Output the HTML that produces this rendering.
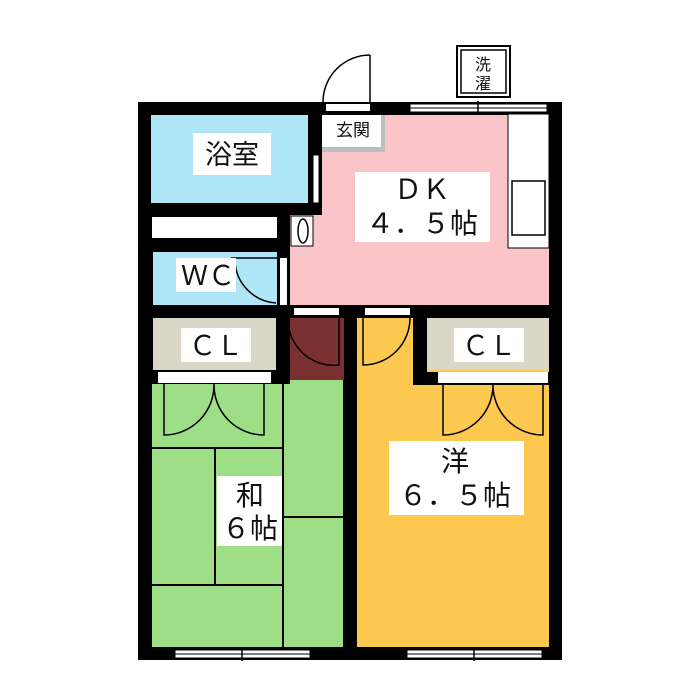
<!DOCTYPE html>
<html><head><meta charset="utf-8"><style>
html,body{margin:0;padding:0;background:#fff;width:700px;height:700px;overflow:hidden}
svg text{font-family:"Liberation Sans","Noto Sans CJK JP",sans-serif;fill:#111}
</style></head><body>
<svg width="700" height="700" viewBox="0 0 700 700" xmlns="http://www.w3.org/2000/svg">
<rect x="138" y="102" width="424" height="558" fill="#000"/>
<!-- DK -->
<rect x="290" y="115" width="259" height="190" fill="#f9c5c8"/>
<rect x="277" y="102" width="45" height="113" fill="#000"/>
<rect x="277" y="215" width="13" height="90" fill="#000"/>
<!-- bath -->
<rect x="151" y="115" width="157" height="88" fill="#aee6f8"/>
<rect x="152" y="217" width="125" height="21" fill="#fff"/>
<rect x="153" y="252" width="124" height="53" fill="#aee6f8"/>
<rect x="313" y="155" width="6" height="48" fill="#fff" stroke="#000" stroke-width="1"/>
<rect x="291" y="216" width="22" height="30" fill="#fff" stroke="#000" stroke-width="1"/>
<ellipse cx="303" cy="231" rx="5" ry="12" fill="#fff" stroke="#000" stroke-width="1.5"/>
<rect x="280" y="258" width="7" height="47" fill="#fff"/>
<path d="M231 258 L278 258 M235 262 A44 44 0 0 0 276 303" fill="none" stroke="#000" stroke-width="1.5"/>
<!-- genkan -->
<rect x="322" y="115" width="63" height="37" fill="#bdbdbd"/>
<rect x="322" y="115" width="59" height="32" fill="#fff"/>
<rect x="326" y="104" width="44" height="7" fill="#fff"/>
<path d="M370 102 L370 55 M370 55 A47 47 0 0 0 323 102" fill="none" stroke="#000" stroke-width="1.5"/>
<rect x="410" y="104" width="137" height="8" fill="#fff" stroke="#000" stroke-width="1"/>
<line x1="410" y1="108" x2="547" y2="108" stroke="#000" stroke-width="1"/>
<line x1="478" y1="101" x2="478" y2="115" stroke="#000" stroke-width="1.5"/>
<rect x="457" y="46" width="53" height="51" fill="#fff" stroke="#000" stroke-width="2"/>
<rect x="461" y="50" width="45" height="43" fill="#fff" stroke="#000" stroke-width="1.5"/>
<text x="483" y="70" font-size="16" text-anchor="middle">洗</text>
<text x="483" y="89" font-size="16" text-anchor="middle">濯</text>
<rect x="508" y="114" width="41" height="134" fill="#fff" stroke="#000" stroke-width="1"/>
<rect x="512" y="181" width="33" height="54" fill="#fff" stroke="#000" stroke-width="1.5"/>
<!-- lower -->
<rect x="153" y="318" width="123" height="52" fill="#dad6c8"/>
<rect x="158" y="372" width="113" height="11" fill="#fff"/>
<rect x="290" y="318" width="54" height="62" fill="#7a3030"/>
<rect x="152" y="384" width="191" height="263" fill="#9ede86"/>
<rect x="290" y="380" width="53" height="4" fill="#9ede86"/>
<rect x="357" y="318" width="192" height="329" fill="#fcc850"/>
<rect x="413" y="305" width="14" height="80" fill="#000"/>
<rect x="413" y="372" width="136" height="13" fill="#000"/>
<rect x="427" y="318" width="122" height="52" fill="#dad6c8"/>
<rect x="438" y="372" width="110" height="11" fill="#fff"/>
<rect x="357" y="385" width="192" height="262" fill="#fcc850"/>
<rect x="294" y="308" width="45" height="7" fill="#fff"/>
<rect x="365" y="308" width="45" height="7" fill="#fff"/>
<path d="M288 320 A46 46 0 0 0 339 365 L339 318" fill="none" stroke="#000" stroke-width="1.5"/>
<path d="M410 318 A47 47 0 0 1 363 365 L363 318" fill="none" stroke="#000" stroke-width="1.5"/>
<path d="M164 384 L164 435 A50 50 0 0 0 214 384 A50 50 0 0 0 264 435 L264 384" fill="none" stroke="#000" stroke-width="1.5"/>
<path d="M443 384 L443 435 A50 50 0 0 0 493 384 A50 50 0 0 0 543 435 L543 384" fill="none" stroke="#000" stroke-width="1.5"/>
<g stroke="#000" stroke-width="2" fill="none">
<line x1="152" y1="448" x2="283" y2="448"/>
<line x1="283" y1="384" x2="283" y2="647"/>
<line x1="215" y1="448" x2="215" y2="585"/>
<line x1="152" y1="585" x2="283" y2="585"/>
<line x1="283" y1="517" x2="343" y2="517"/>
</g>
<rect x="175" y="650" width="135" height="8" fill="#fff" stroke="#000" stroke-width="1"/>
<line x1="175" y1="654" x2="310" y2="654" stroke="#000"/>
<line x1="242" y1="647" x2="242" y2="661" stroke="#000" stroke-width="1.5"/>
<rect x="407" y="650" width="135" height="8" fill="#fff" stroke="#000" stroke-width="1"/>
<line x1="407" y1="654" x2="542" y2="654" stroke="#000"/>
<line x1="474" y1="647" x2="474" y2="661" stroke="#000" stroke-width="1.5"/>
<!-- labels -->
<rect x="193" y="133" width="78" height="42" fill="#fff"/>
<text x="232" y="164" font-size="27" text-anchor="middle">浴室</text>
<text x="353" y="136" font-size="17" text-anchor="middle">玄関</text>
<rect x="355" y="172" width="135" height="70" fill="#fff"/>
<text x="422" y="199" font-size="28" text-anchor="middle">ＤＫ</text>
<text x="422" y="233" font-size="28" text-anchor="middle">４．５帖</text>
<rect x="176" y="258" width="60" height="34" fill="#fff"/>
<text x="208" y="285" font-size="27" text-anchor="middle">ＷＣ</text>
<rect x="181" y="328" width="70" height="34" fill="#fff"/>
<text x="216" y="355" font-size="27" text-anchor="middle">ＣＬ</text>
<rect x="454" y="328" width="70" height="34" fill="#fff"/>
<text x="489" y="355" font-size="27" text-anchor="middle">ＣＬ</text>
<rect x="217" y="476" width="65" height="70" fill="#fff"/>
<text x="250" y="505" font-size="28" text-anchor="middle">和</text>
<text x="250" y="538" font-size="28" text-anchor="middle">６帖</text>
<rect x="389" y="441" width="135" height="74" fill="#fff"/>
<text x="455" y="471" font-size="28" text-anchor="middle">洋</text>
<text x="455" y="505" font-size="28" text-anchor="middle">６．５帖</text>
</svg>
</body></html>
